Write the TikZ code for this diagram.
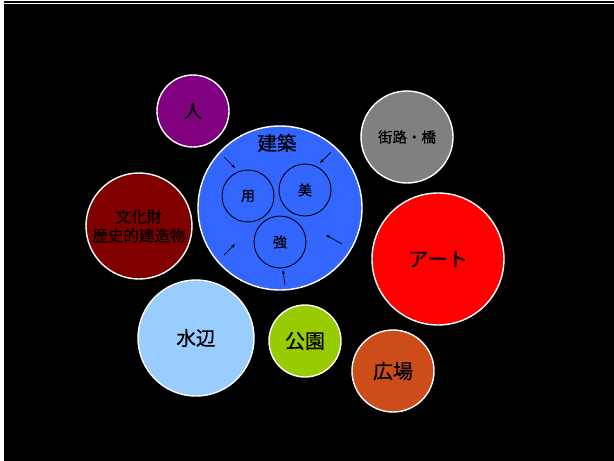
\documentclass[tikz,border=0pt]{standalone}
\usepackage{fontspec}
\setmainfont[FakeBold=0.6]{Noto Sans CJK JP}
\usetikzlibrary{arrows.meta}

\begin{document}
\begin{tikzpicture}[x=1pt,y=-1pt,topic/.style={shape=circle,draw=white,line width=1.4pt,inner sep=0pt,text=black},inner/.style={shape=circle,draw=black,line width=0.9pt,inner sep=0pt,minimum size=52pt,font=\fontsize{14}{16}\selectfont},push/.style={-{Stealth[length=4pt,width=3pt]},line width=0.7pt,black}]
\def\big{\fontsize{19.5}{22}\selectfont};
\def\mid{\fontsize{20}{22}\selectfont};
\def\small{\fontsize{14.5}{17}\selectfont};

\useasboundingbox (0,0) rectangle (614,461);
\fill[white] (0,0) rectangle (614,461);
\draw[black,line width=2pt] (4,1.5) -- (614,1.5);
\fill[black] (4,4) rectangle (614,461);

\node[topic,fill={rgb,255:red,128;green,0;blue,128},minimum size=72pt,font=\fontsize{18}{20}\selectfont] (hito) at (193,111) {人};
\node[topic,fill={rgb,255:red,128;green,128;blue,128},minimum size=92pt,font=\small] (gairo) at (407,137) {街路・橋};
\node[topic,fill={rgb,255:red,128;green,0;blue,0},minimum size=106pt,font=\fontsize{15.5}{19}\selectfont,align=center] (bunka) at (139,226) {文化財\\歴史的建造物};
\node[topic,fill={rgb,255:red,255;green,0;blue,0},minimum size=132pt,font=\fontsize{20.5}{22}\selectfont] (art) at (438,259) {アート};
\node[topic,fill={rgb,255:red,153;green,204;blue,255},minimum size=116pt,font=\big] (mizu) at (196,338) {水辺};
\node[topic,fill={rgb,255:red,153;green,204;blue,0},minimum size=72pt,font=\mid] (koen) at (305,341) {公園};
\node[topic,fill={rgb,255:red,204;green,76;blue,26},minimum size=82pt,font=\mid] (hiroba) at (393,371) {広場};

\node[topic,fill={rgb,255:red,51;green,102;blue,255},minimum size=164pt] (kenchiku) at (280,208) {};
\node[font=\big] (kenlabel) at (277,143) {建築};
\node[inner] (you) at (248,196) {用};
\node[inner] (bi) at (305,190) {美};
\node[inner] (kyo) at (280,242) {強};

% forces acting on the building
\coordinate (p1) at (224,157); \coordinate (q1) at (235,168);
\coordinate (p2) at (331,152); \coordinate (q2) at (320,163);
\coordinate (p3) at (224,255); \coordinate (q3) at (235,244);
\coordinate (p4) at (342,244); \coordinate (q4) at (326,235);
\coordinate (p5) at (285,285); \coordinate (q5) at (283,270);
\draw[push] (p1) -- (q1);
\draw[push] (p2) -- (q2);
\draw[push] (p3) -- (q3);
\draw[push] (p4) -- (q4);
\draw[push] (p5) -- (q5);
\end{tikzpicture}
\end{document}
